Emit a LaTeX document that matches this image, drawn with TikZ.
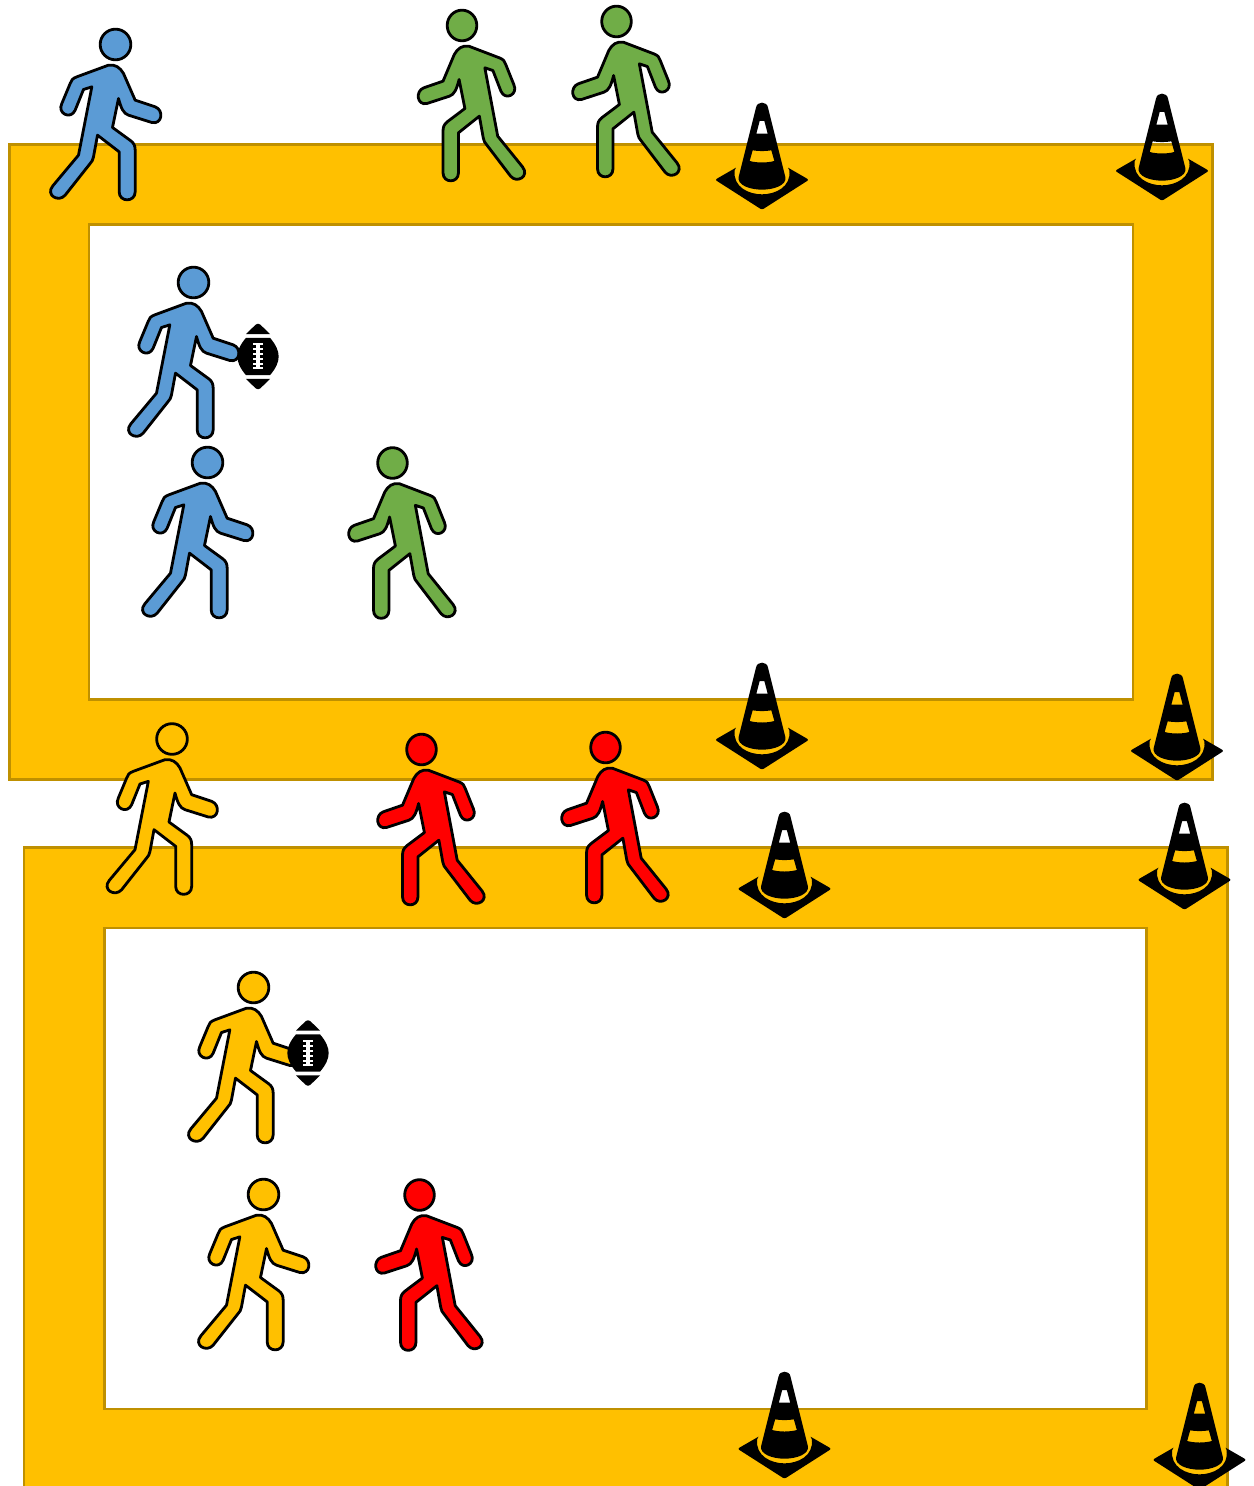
\documentclass[tikz,border=0pt]{standalone}
\definecolor{gold}{HTML}{FFC000}
\definecolor{goldedge}{HTML}{BF9000}
\definecolor{pblue}{HTML}{5B9BD5}
\definecolor{pgreen}{HTML}{70AD47}
\definecolor{pred}{HTML}{FF0000}
\tikzset{
  x=0.5pt,y=-0.5pt,
  frameouter/.style={fill=gold,draw=goldedge,line width=1.2pt},
  frameinner/.style={fill=white,draw=goldedge,line width=1.2pt},
  walker/.pic={
    \begin{scope}[x=0.16667pt,y=-0.16667pt,shift={(-226,-73)}]
      \draw[fill=#1,draw=black,line width=1.4pt,line join=round]
        (226,73) circle[radius=46];
      \draw[fill=#1,draw=black,line width=1.4pt,line join=round]
        (205,135) .. controls (225,132) and (240,142) .. (250,160)
        -- (285,240) -- (345,260) .. controls (372,270) and (366,314) .. (335,307)
        -- (265,285) .. controls (250,280) and (243,265) .. (235,235)
        -- (217,322) -- (272,362) .. controls (282,370) and (285,378) .. (285,390)
        -- (285,515) .. controls (285,547) and (237,547) .. (237,515)
        -- (237,395) -- (172,345) -- (160,410) .. controls (158,420) and (155,425) .. (150,430)
        -- (75,525) .. controls (55,548) and (15,525) .. (38,497)
        -- (115,405) -- (155,200) -- (130,208) -- (105,270) .. controls (92,300) and (50,280) .. (65,250)
        -- (90,190) .. controls (93,180) and (97,175) .. (110,170) -- cycle;
    \end{scope}
  },
  conemark/.pic={
    \begin{scope}[x=0.16667pt,y=-0.16667pt,shift={(-170,-38)}]
      \fill[black,even odd rule]
        (152,52) .. controls (155,32) and (185,32) .. (188,52)
        -- (240,260) .. controls (245,285) and (205,298) .. (170,298)
        .. controls (135,298) and (95,285) .. (100,260) -- cycle
        (163,92) -- (177,92) -- (187,130) -- (153,130) -- cycle
        (142,180) .. controls (160,183) and (180,183) .. (198,180)
        -- (207,212) .. controls (185,218) and (155,218) .. (133,212) -- cycle;
      \fill[black]
        (92,232) -- (40,262) .. controls (30,267) and (30,270) .. (38,274)
        -- (160,352) .. controls (168,358) and (172,358) .. (180,352)
        -- (302,274) .. controls (310,270) and (310,267) .. (300,262)
        -- (248,232) -- (252,240) .. controls (258,290) and (210,312) .. (170,312)
        .. controls (130,312) and (82,290) .. (88,240) -- cycle;
    \end{scope}
  },
  football/.pic={
    \begin{scope}[x=0.16667pt,y=-0.16667pt,shift={(-100,-125)}]
      \fill[black] (64,58) .. controls (76,46) and (88,34) .. (94,29)
        .. controls (98,26) and (102,26) .. (106,29)
        .. controls (112,34) and (124,46) .. (136,58) -- cycle;
      \fill[black] (64,192) .. controls (76,204) and (88,216) .. (94,221)
        .. controls (98,224) and (102,224) .. (106,221)
        .. controls (112,216) and (124,204) .. (136,192) -- cycle;
      \fill[black] (64,69) -- (136,69) .. controls (154,90) and (162,108) .. (162,125)
        .. controls (162,142) and (154,160) .. (136,181) -- (64,181)
        .. controls (46,160) and (38,142) .. (38,125)
        .. controls (38,108) and (46,90) .. (64,69) -- cycle;
      \draw[white,line width=1.6pt] (100,86) -- (100,162);
      \foreach \yy in {88,103,118,133,148,160}
        \draw[white,line width=0.9pt] (86,\yy) -- (114,\yy);
    \end{scope}
  }
}
\begin{document}
\begin{tikzpicture}
  \useasboundingbox (0,0) rectangle (1253,1486);
  \clip (0,0) rectangle (1253,1486);
  % upper frame
  \draw[frameouter] (9.5,144.5) rectangle (1212.5,779.5);
  \draw[frameinner] (89,224.5) rectangle (1133,699.5);
  % lower frame
  \draw[frameouter] (24,847.5) rectangle (1227.5,1520);
  \draw[frameinner] (104.5,928) rectangle (1146.5,1409);
  % cones
  \foreach \cx/\cy in {762/103,1162/94,762/663,1177/674,784.5/812,1184.5/803,784.5/1372,1199.5/1383}
    \path (\cx,\cy) pic {conemark};
  % blue and yellow walkers
  \foreach \hx/\hy in {115.5/44.5,193.5/282.5,207.5/462.5}
    \path (\hx,\hy) pic {walker=pblue};
  \foreach \hx/\hy in {172/739,253.5/987.5,263.5/1194.5}
    \path (\hx,\hy) pic {walker=gold};
  % green and red walkers, mirrored
  \foreach \hx/\hy in {462/25.5,616.5/21.5,392.5/463}
    \path (\hx,\hy) pic[xscale=-0.965] {walker=pgreen};
  \foreach \hx/\hy in {421.5/749.5,605.5/747.5,419.5/1195}
    \path (\hx,\hy) pic[xscale=-0.965] {walker=pred};
  % footballs
  \path (258,356.5) pic {football};
  \path (308,1053) pic {football};
\end{tikzpicture}
\end{document}
